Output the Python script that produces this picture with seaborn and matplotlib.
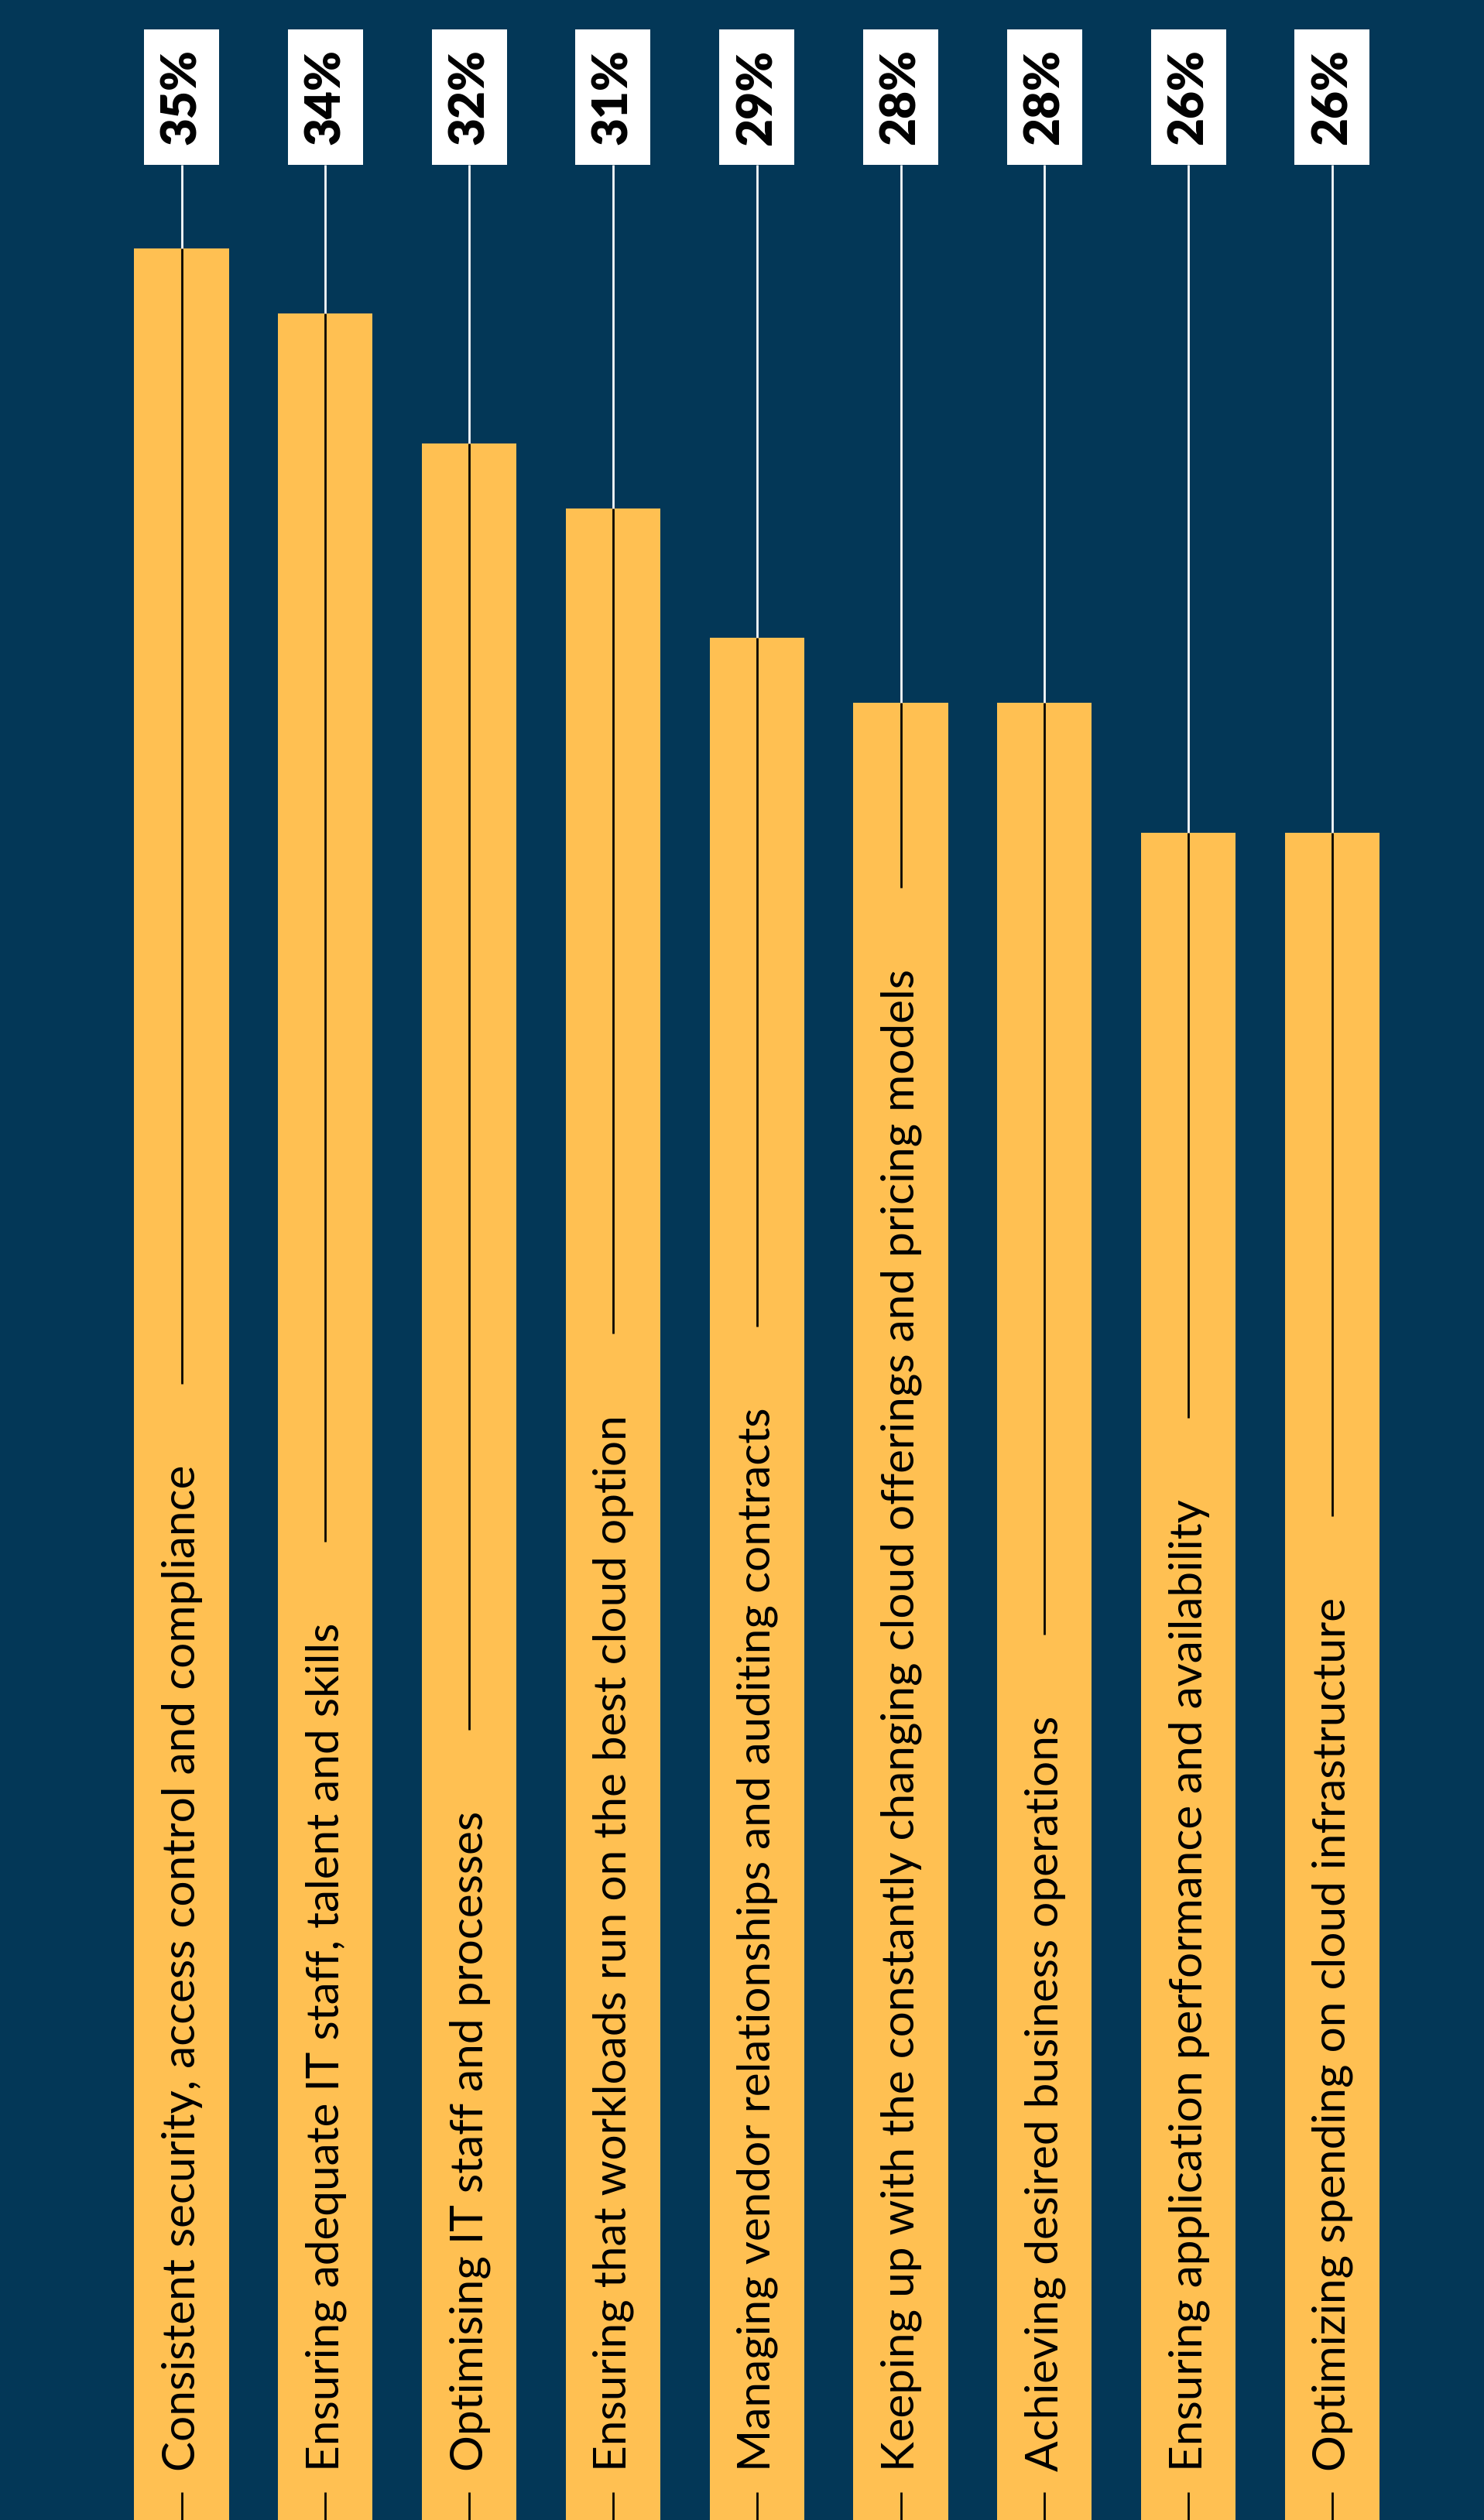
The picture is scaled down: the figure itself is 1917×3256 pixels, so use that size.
import matplotlib
matplotlib.use("Agg")
import matplotlib.pyplot as plt
import seaborn as sns
import pandas as pd
from matplotlib.patches import Rectangle
from matplotlib.transforms import offset_copy

# ---------------- data ----------------
categories = [
    "Consistent security, access control and compliance",
    "Ensuring adequate IT staff, talent and skills",
    "Optimising IT staff and processes",
    "Ensuring that workloads run on the best cloud option",
    "Managing vendor relationships and auditing contracts",
    "Keeping up with the constantly changing cloud offerings and pricing models",
    "Achieving desired business operations",
    "Ensuring application performance and availability",
    "Optimizing spending on cloud infrastructure",
]
values = [35, 34, 32, 31, 29, 28, 28, 26, 26]
value_labels = ["35%", "34%", "32%", "31%", "29%", "28%", "28%", "26%", "26%"]

# ---------------- style ----------------
NAVY = "#033757"
YELLOW = "#FFC052"
W, H, DPI = 1917, 3256, 100

sns.set_theme(style="white")
plt.rcParams['font.family'] = ['Lato', 'DejaVu Sans']

fig = plt.figure(figsize=(W / DPI, H / DPI), dpi=DPI, facecolor=NAVY)
ax = fig.add_axes([0, 0, 1, 1])
ax.set_facecolor(NAVY)

df = pd.DataFrame({"challenge": categories, "share": values})
sns.barplot(data=df, x="challenge", y="share", color=YELLOW, saturation=1,
            width=0.657, linewidth=0, ax=ax, zorder=1)

X_STEP = 185.8          # px per category
Y_MAX = 38.83           # data value at figure top
ax.set_xlim(-234.5 / X_STEP, (W - 234.5) / X_STEP)
ax.set_ylim(0, Y_MAX)
ax.axis("off")
PX_Y = H / Y_MAX

def y_from_top(px):
    return (H - px) / PX_Y

# value boxes
box_w = 97 / X_STEP
box_bot = y_from_top(213)
box_top = y_from_top(38)
for i, lab in enumerate(value_labels):
    ax.add_patch(Rectangle((i - box_w / 2, box_bot), box_w, box_top - box_bot,
                           facecolor="white", edgecolor="none", zorder=4))
    ax.plot([i, i], [values[i], box_bot], color="white", lw=2.0,
            solid_capstyle="butt", zorder=2)

fig.canvas.draw()
renderer = fig.canvas.get_renderer()

# value label texts, sized to fit reference length
vtexts = []
for i, lab in enumerate(value_labels):
    t = ax.text(i, (box_bot + box_top) / 2, lab, rotation=90, ha="center", va="center",
                fontsize=44, fontweight="heavy", color="black", zorder=5)
    vtexts.append(t)
L0 = vtexts[0].get_window_extent(renderer).height
vfs = 44 * 124 / L0
for t in vtexts:
    t.set_fontsize(vfs)

# category texts
tr = offset_copy(ax.transData, fig=fig, x=17, y=0, units="dots")
texts = []
for i, lab in enumerate(categories):
    t = ax.text(i, y_from_top(3193), lab, rotation=90, rotation_mode="anchor",
                ha="left", va="baseline", fontsize=40, color="black",
                transform=tr, zorder=3)
    texts.append(t)
L1 = texts[0].get_window_extent(renderer).height
fs = 40 * 1302 / L1
for t in texts:
    t.set_fontsize(fs)

fig.canvas.draw()
inv = ax.transData.inverted()
for i, t in enumerate(texts):
    bb = t.get_window_extent(renderer)
    top_d = inv.transform((0, bb.y1 + 105))[1]
    bot_d = inv.transform((0, bb.y0 - 27))[1]
    ax.plot([i, i], [values[i], top_d], color="black", lw=2.0,
            solid_capstyle="butt", zorder=2)
    ax.plot([i, i], [0, bot_d], color="black", lw=2.0,
            solid_capstyle="butt", zorder=2)

fig.savefig("out.png", dpi=DPI, facecolor=NAVY)
